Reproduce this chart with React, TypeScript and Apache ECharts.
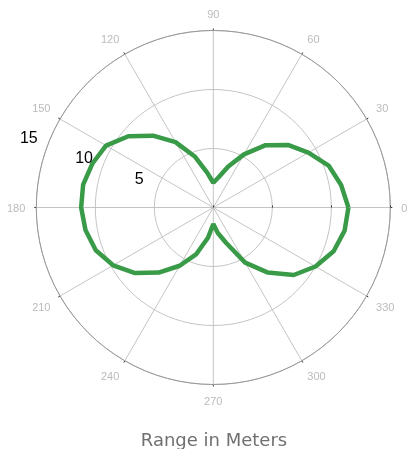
import React, { useEffect, useRef } from "react";
import * as echarts from "echarts";

// Angle (degrees) of each measured point
const angles = [0, 10, 20, 30, 40, 50, 60, 70, 80, 90, 100, 110, 120, 130, 140, 150, 160, 170, 180,
  190, 200, 210, 220, 230, 240, 250, 260, 270, 280, 290, 300, 310, 320, 330, 340, 350, 360];
// Range (meters) at each angle
const ranges = [11.45, 11.0, 10.4, 9.3, 8.25, 6.9, 5.2, 3.7, 2.6, 2.1, 3.0, 4.6, 6.4, 7.95, 9.4, 10.5, 10.9, 11.2, 11.2,
  11.0, 10.6, 9.8, 8.65, 7.2, 5.7, 4.2, 2.6, 1.4, 2.2, 3.2, 5.4, 7.2, 8.9, 10.0, 10.85, 11.3, 11.45];
const radiusTicks = [5, 10, 15];
const radiusMax = 15;
const title = "Range in Meters";

export default function App() {
  const ref = useRef<HTMLDivElement>(null);
  useEffect(() => {
    if (!ref.current) return;
    const chart = echarts.init(ref.current, null, { renderer: "svg" });
    const cx = 213.3;
    const cy = 207.5;
    const R = 177;
    const labelAngle = (159.5 * Math.PI) / 180;
    const labelGap = 20;
    const graphics = radiusTicks.map((v) => {
      const rp = (v / radiusMax) * R + labelGap;
      return {
        type: "text",
        x: cx + rp * Math.cos(labelAngle),
        y: cy - rp * Math.sin(labelAngle) - 1.5,
        style: {
          text: String(v),
          fill: "#000",
          font: "16px 'Liberation Sans', Arial, sans-serif",
          align: "center",
          verticalAlign: "middle",
        },
        z: 10,
      };
    });
    chart.setOption({
      animation: false,
      title: {
        text: title,
        left: 209,
        top: 425,
        textAlign: "center",
        textStyle: { fontSize: 18, fontWeight: "normal", color: "#707070", fontFamily: "DejaVu Sans" },
      },
      polar: { center: [cx, cy], radius: R },
      angleAxis: {
        type: "value",
        min: 0,
        max: 360,
        interval: 30,
        startAngle: 0,
        clockwise: false,
        axisLine: { show: true, lineStyle: { color: "#999", width: 1 } },
        axisTick: { show: true, length: 2, lineStyle: { color: "#333" } },
        splitLine: { show: true, lineStyle: { color: "#c4c4c4", width: 1 } },
        axisLabel: { show: true, color: "#bbb", fontSize: 11, margin: 11, fontFamily: "Liberation Sans" },
      },
      radiusAxis: {
        type: "value",
        min: 0,
        max: radiusMax,
        interval: 5,
        axisLine: { show: true, lineStyle: { color: "#c4c4c4", width: 1 } },
        axisTick: { show: true, length: 2, lineStyle: { color: "#333" } },
        axisLabel: { show: false },
        splitLine: { show: true, lineStyle: { color: "#c4c4c4", width: 1 } },
      },
      graphic: graphics,
      series: [
        {
          type: "line",
          coordinateSystem: "polar",
          data: angles.map((a, i) => [ranges[i], a]),
          symbol: "none",
          lineStyle: { color: "#399a48", width: 4.5 },
          z: 5,
        },
      ],
    });
    return () => chart.dispose();
  }, []);
  return (
    <div
      ref={ref}
      style={{ position: "fixed", left: 0, top: 0, width: 409, height: 449 }}
    />
  );
}
